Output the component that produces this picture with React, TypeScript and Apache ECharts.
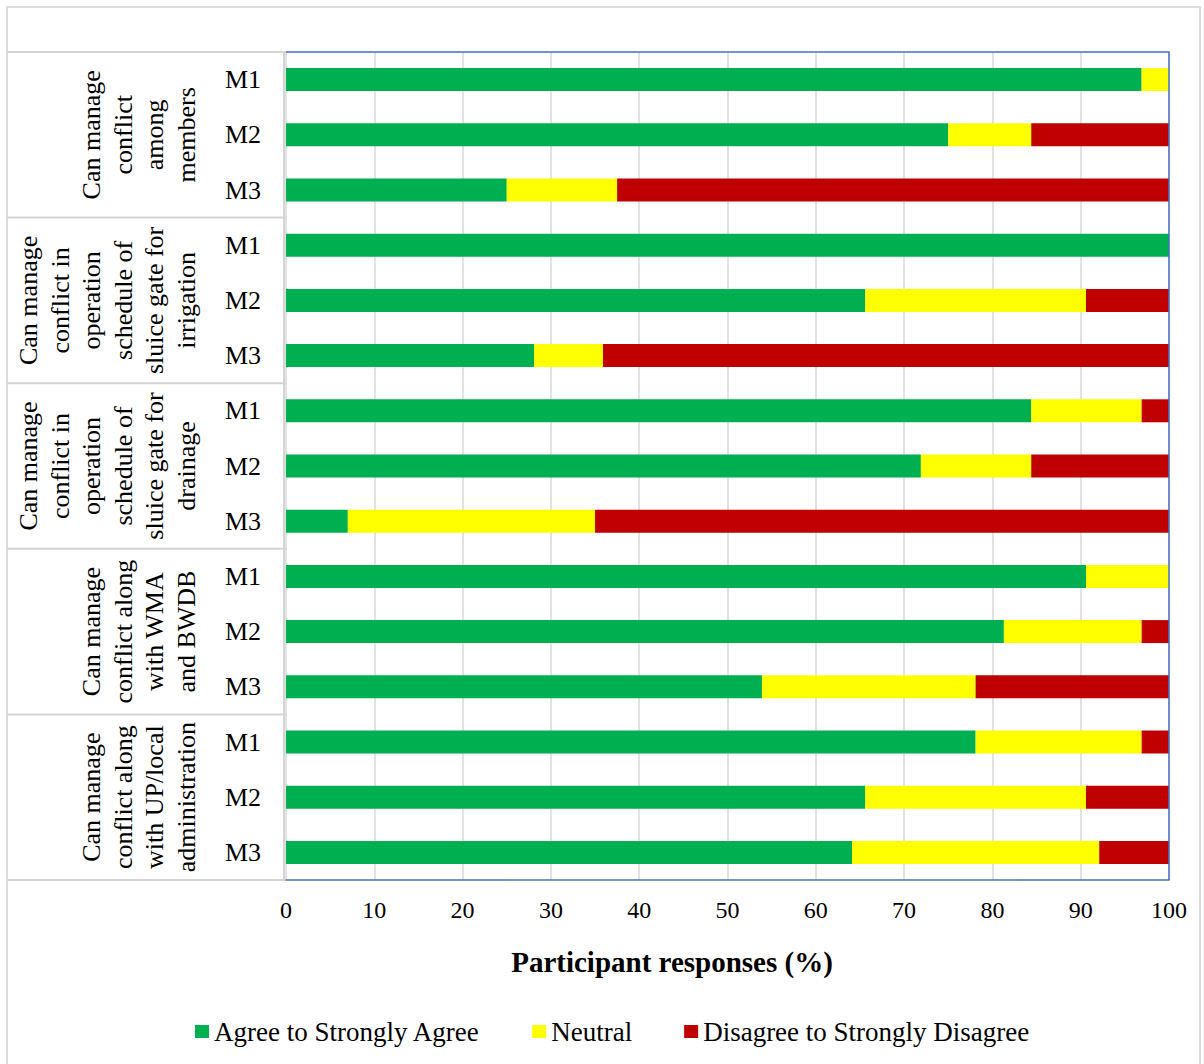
import React, { useEffect, useRef } from "react";
import * as echarts from "echarts";

// Response categories and their colours
const seriesNames = ["Agree to Strongly Agree", "Neutral", "Disagree to Strongly Disagree"];
const seriesColors = ["#00B050", "#FFFF00", "#C00000"];

// Statement groups (multi-line, drawn rotated) and the methods within each group
const groupLabels: string[][] = [
  ["Can manage", "conflict", "among", "members"],
  ["Can manage", "conflict in", "operation", "schedule of", "sluice gate for", "irrigation"],
  ["Can manage", "conflict in", "operation", "schedule of", "sluice gate for", "drainage"],
  ["Can manage", "conflict along", "with WMA", "and BWDB"],
  ["Can manage", "conflict along", "with UP/local", "administration"],
];
const methods = ["M1", "M2", "M3"];

// Percentages per row, top to bottom (group 1 M1 ... group 5 M3)
const agree = [96.9, 75.0, 25.0, 100, 65.6, 28.1, 84.4, 71.9, 7.0, 90.6, 81.3, 53.9, 78.1, 65.6, 64.1];
const neutral = [3.1, 9.4, 12.5, 0, 25.0, 7.8, 12.5, 12.5, 28.0, 9.4, 15.6, 24.2, 18.8, 25.0, 28.0];
const disagree = [0, 15.6, 62.5, 0, 9.4, 64.1, 3.1, 15.6, 65.0, 0, 3.1, 21.9, 3.1, 9.4, 7.9];

const xTicks = { min: 0, max: 100, interval: 10 };
const axisTitle = "Participant responses (%)";

const FONT = "Liberation Serif";
const W = 1204;
const H = 1064;
const GRID_LEFT = 286;
const GRID_TOP = 52;
const GRID_RIGHT_X = 1169;
const GRID_BOTTOM_Y = 880;
const TABLE_LEFT = 7;
const TABLE_LINE = "#d4d4d4";
const PLOT_BORDER = "#4472C4";

export default function App() {
  const ref = useRef<HTMLDivElement>(null);

  useEffect(() => {
    document.body.style.margin = "0";
    if (!ref.current) return;
    const chart = echarts.init(ref.current, undefined, { renderer: "svg" });

    const rowKeys: string[] = [];
    groupLabels.forEach((_, g) => methods.forEach((m) => rowKeys.push(`${g}|${m}`)));

    const rowH = (GRID_BOTTOM_Y - GRID_TOP) / rowKeys.length;
    const groupH = rowH * methods.length;

    const graphics: any[] = [];
    // outer frame
    graphics.push({
      type: "rect",
      shape: { x: TABLE_LEFT, y: 7, width: 1200 - TABLE_LEFT, height: H + 20 },
      style: { fill: "none", stroke: "#dcdcdc", lineWidth: 2 },
      silent: true,
      z: 0,
    });
    // table lines to the left of the plot
    for (let g = 0; g <= groupLabels.length; g++) {
      const y = GRID_TOP + g * groupH;
      graphics.push({
        type: "line",
        shape: { x1: TABLE_LEFT, y1: y, x2: GRID_LEFT, y2: y },
        style: { stroke: TABLE_LINE, lineWidth: 2 },
        silent: true,
      });
    }
    graphics.push({
      type: "line",
      shape: { x1: GRID_LEFT - 2, y1: GRID_TOP, x2: GRID_LEFT - 2, y2: GRID_BOTTOM_Y },
      style: { stroke: TABLE_LINE, lineWidth: 2 },
      silent: true,
    });
    // plot border (top, right)
    graphics.push({
      type: "polyline",
      shape: {
        points: [
          [GRID_LEFT, GRID_TOP],
          [GRID_RIGHT_X, GRID_TOP],
          [GRID_RIGHT_X, GRID_BOTTOM_Y],
        ],
      },
      style: { stroke: PLOT_BORDER, lineWidth: 1.5, fill: "none" },
      silent: true,
      z: 10,
    });
    // rotated group labels
    groupLabels.forEach((lines, g) => {
      graphics.push({
        type: "text",
        x: 202,
        y: GRID_TOP + g * groupH + groupH / 2,
        rotation: Math.PI / 2,
        style: {
          text: lines.join("\n"),
          fontFamily: FONT,
          fontSize: 26,
          fill: "#000",
          align: "center",
          verticalAlign: "bottom",
          lineHeight: 31.5,
        },
        silent: true,
      });
    });
    // x-axis title
    graphics.push({
      type: "text",
      x: 672,
      y: 962,
      style: {
        text: axisTitle,
        fontFamily: FONT,
        fontSize: 29,
        fontWeight: "bold",
        fill: "#000",
        align: "center",
        verticalAlign: "middle",
      },
      silent: true,
    });

    const values = [agree, neutral, disagree];

    chart.setOption({
      animation: false,
      backgroundColor: "#ffffff",
      grid: {
        left: GRID_LEFT,
        top: GRID_TOP,
        right: W - GRID_RIGHT_X,
        bottom: H - GRID_BOTTOM_Y,
        containLabel: false,
      },
      legend: {
        data: seriesNames,
        left: 190,
        top: 1013,
        itemWidth: 14,
        itemHeight: 13,
        itemGap: 52,
        icon: "rect",
        textStyle: { fontFamily: FONT, fontSize: 27, color: "#000" },
      },
      xAxis: {
        type: "value",
        min: xTicks.min,
        max: xTicks.max,
        interval: xTicks.interval,
        axisLine: { show: true, lineStyle: { color: PLOT_BORDER, width: 1.5 } },
        axisTick: { show: false },
        axisLabel: { fontFamily: FONT, fontSize: 24, color: "#000", margin: 18 },
        splitLine: { show: true, lineStyle: { color: "#d9d9d9", width: 1.5 } },
      },
      yAxis: {
        type: "category",
        inverse: true,
        data: rowKeys,
        axisLine: { show: false },
        axisTick: { show: false },
        splitLine: { show: false },
        axisLabel: {
          fontFamily: FONT,
          fontSize: 26,
          color: "#000",
          margin: 25,
          formatter: (v: string) => v.split("|")[1],
        },
      },
      series: seriesNames.map((name, i) => ({
        name,
        type: "bar",
        stack: "total",
        barWidth: 23,
        itemStyle: { color: seriesColors[i] },
        emphasis: { disabled: true },
        data: values[i],
      })),
      graphic: graphics,
    });

    return () => chart.dispose();
  }, []);

  return <div ref={ref} style={{ width: W, height: H }} />;
}
